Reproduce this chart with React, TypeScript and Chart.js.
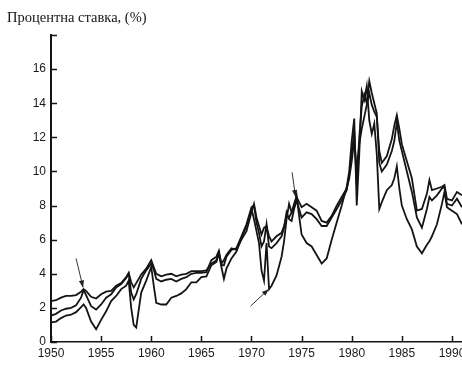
import { useEffect, useRef } from "react";
import { Chart, registerables } from "chart.js";
Chart.register(...registerables);

const title = "Процентна ставка, (%)";

const years = [
  1950, 1950.5, 1951, 1951.5, 1952, 1952.5, 1953, 1953.25, 1953.5, 1954, 1954.5,
  1955, 1955.5, 1956, 1956.5, 1957, 1957.5, 1957.75, 1958, 1958.25, 1958.5, 1959, 1959.5,
  1960, 1960.25, 1960.5, 1961, 1961.5, 1962, 1962.5, 1963, 1963.5, 1964, 1964.5,
  1965, 1965.5, 1966, 1966.5, 1966.75, 1967, 1967.25, 1967.5, 1968, 1968.5, 1969, 1969.5,
  1970, 1970.25, 1970.5, 1970.75, 1971, 1971.25, 1971.5, 1971.75, 1972, 1972.5,
  1973, 1973.25, 1973.5, 1973.75, 1974, 1974.25, 1974.5, 1974.75,
  1975, 1975.5, 1976, 1976.5, 1977, 1977.5, 1978, 1978.5, 1979, 1979.5, 1979.75,
  1980, 1980.25, 1980.5, 1980.75, 1981, 1981.25, 1981.5, 1981.75,
  1982, 1982.25, 1982.5, 1982.75, 1983, 1983.5, 1984, 1984.25, 1984.5, 1984.75,
  1985, 1985.5, 1986, 1986.5, 1987, 1987.5, 1987.75, 1988, 1988.5,
  1989, 1989.25, 1989.5, 1990, 1990.5, 1991,
];

const longRate = [
  2.4, 2.45, 2.6, 2.7, 2.7, 2.75, 2.95, 3.1, 3.0, 2.65, 2.55,
  2.8, 2.95, 3.0, 3.3, 3.45, 3.8, 4.05, 3.5, 3.2, 3.45, 3.95, 4.3,
  4.8, 4.4, 4.0, 3.85, 3.95, 4.0, 3.85, 3.95, 4.0, 4.15, 4.15,
  4.15, 4.2, 4.6, 4.8, 5.2, 4.6, 4.8, 5.1, 5.5, 5.4, 6.0, 6.5,
  7.6, 8.1, 7.3, 6.8, 6.3, 6.7, 6.8, 6.2, 5.9, 6.2,
  6.4, 6.8, 7.4, 7.3, 7.6, 8.1, 8.5, 8.2,
  7.9, 8.1, 7.9, 7.7, 7.1, 7.0, 7.4, 8.0, 8.5, 9.0, 9.6,
  10.6, 11.8, 10.0, 11.6, 12.5, 13.2, 13.9, 14.6,
  13.9, 13.5, 13.2, 11.2, 10.5, 10.9, 11.9, 12.7, 13.3, 12.5,
  11.6, 10.6, 9.6, 7.7, 7.8, 8.7, 9.5, 8.9, 9.0,
  9.1, 9.2, 8.4, 8.3, 8.8, 8.6,
];

const midRate = [
  1.55, 1.65, 1.85, 1.95, 2.0, 2.15, 2.6, 3.05, 2.75, 2.1, 1.9,
  2.2, 2.6, 2.8, 3.2, 3.4, 3.75, 4.0, 2.9, 2.5, 2.8, 3.7, 4.2,
  4.6, 4.25, 3.7, 3.55, 3.65, 3.7, 3.55, 3.7, 3.8, 4.0, 4.05,
  4.05, 4.1, 4.8, 5.0, 5.35, 4.5, 4.5, 5.0, 5.4, 5.5, 6.2, 6.9,
  7.9, 8.0, 7.0, 6.4, 5.6, 5.9, 6.9, 5.6, 5.5, 5.8,
  6.2, 6.7, 7.6, 7.2, 7.1, 7.8, 8.3, 7.8,
  7.3, 7.6, 7.5, 7.2, 6.8, 6.8, 7.3, 7.8, 8.3, 8.9, 9.8,
  11.0, 12.4, 9.2, 12.0, 13.8, 14.5, 14.0, 15.3,
  14.6, 14.0, 13.4, 10.5, 10.0, 10.4, 11.2, 11.8, 12.9, 11.8,
  11.2, 10.0, 8.8, 7.3, 6.7, 7.8, 8.5, 8.3, 8.6,
  9.0, 9.1, 8.1, 8.0, 8.4, 7.9,
];

const shortRate = [
  1.15, 1.2, 1.4, 1.55, 1.6, 1.75, 2.05, 2.2, 2.0, 1.2, 0.75,
  1.3, 1.8, 2.4, 2.7, 3.1, 3.3, 3.6, 2.0, 1.0, 0.85, 2.9, 3.6,
  4.4, 3.3, 2.3, 2.2, 2.2, 2.6, 2.7, 2.85, 3.1, 3.5, 3.5,
  3.8, 3.85, 4.5, 4.7, 5.2, 4.4, 3.7, 4.3, 4.9, 5.3, 6.1, 6.8,
  7.8, 7.2, 6.5, 5.8, 4.2, 3.6, 5.8, 3.1, 3.3, 3.9,
  5.0, 5.9, 7.2, 8.1, 7.6, 7.9, 8.6, 7.4,
  6.3, 5.8, 5.6, 5.1, 4.6, 4.9, 6.0, 7.0, 8.0, 9.1, 10.0,
  11.8, 13.1, 8.0, 11.0, 14.7, 14.2, 15.0, 13.0,
  12.2, 12.8, 11.0, 7.8, 8.2, 8.9, 9.2, 9.6, 10.3, 9.0,
  8.0, 7.2, 6.6, 5.6, 5.2, 5.7, 5.9, 6.2, 6.9,
  8.1, 8.8, 7.9, 7.7, 7.5, 6.9,
];

const xTickValues = [1950, 1955, 1960, 1965, 1970, 1975, 1980, 1985, 1990];
const yTickValues = [0, 2, 4, 6, 8, 10, 12, 14, 16, 18];

// arrows: start and tip, in (year, rate)
const arrowFrom = [
  [1952.5, 4.9],
  [1974.05, 9.95],
  [1969.9, 2.1],
];
const arrowTo = [
  [1953.2, 3.2],
  [1974.4, 8.5],
  [1971.72, 3.1],
];

const INK = "#141414";

const decorPlugin = {
  id: "decor",
  afterDraw(chart: any) {
    const ctx = chart.ctx;
    const xs = chart.scales.x;
    const ys = chart.scales.y;
    const area = chart.chartArea;
    ctx.save();
    ctx.fillStyle = INK;
    ctx.font = '14.5px "Liberation Serif", serif';
    ctx.textBaseline = "middle";
    ctx.textAlign = "left";
    ctx.fillText(title, 7, 18);
    ctx.strokeStyle = INK;
    ctx.lineWidth = 1.5;
    ctx.beginPath();
    for (const v of yTickValues) {
      const py = Math.round(ys.getPixelForValue(v)) + 0.5;
      ctx.moveTo(area.left, py);
      ctx.lineTo(area.left + 6, py);
    }
    for (const v of xTickValues) {
      const px = Math.round(xs.getPixelForValue(v)) + 0.5;
      ctx.moveTo(px, area.bottom);
      ctx.lineTo(px, area.bottom - 6);
    }
    ctx.stroke();
    ctx.strokeStyle = "#333";
    ctx.fillStyle = "#222";
    ctx.lineWidth = 1;
    for (let i = 0; i < arrowFrom.length; i++) {
      const x1 = xs.getPixelForValue(arrowFrom[i][0]);
      const y1 = ys.getPixelForValue(arrowFrom[i][1]);
      const x2 = xs.getPixelForValue(arrowTo[i][0]);
      const y2 = ys.getPixelForValue(arrowTo[i][1]);
      const ang = Math.atan2(y2 - y1, x2 - x1);
      ctx.beginPath();
      ctx.moveTo(x1, y1);
      ctx.lineTo(x2, y2);
      ctx.stroke();
      const L = 7, W = 2.6;
      ctx.beginPath();
      ctx.moveTo(x2, y2);
      ctx.lineTo(x2 - L * Math.cos(ang) + W * Math.sin(ang), y2 - L * Math.sin(ang) - W * Math.cos(ang));
      ctx.lineTo(x2 - L * Math.cos(ang) - W * Math.sin(ang), y2 - L * Math.sin(ang) + W * Math.cos(ang));
      ctx.closePath();
      ctx.fill();
    }
    ctx.restore();
  },
};

export default function App() {
  const ref = useRef<HTMLCanvasElement | null>(null);
  useEffect(() => {
    document.body.style.margin = "0";
    const canvas = ref.current!;
    const mk = (label: string, values: number[]) => ({
      label,
      data: years.map((y, i) => ({ x: y, y: values[i] })),
      borderColor: INK,
      borderWidth: 1.8,
      pointRadius: 0,
      tension: 0,
      fill: false,
    });
    const chart = new Chart(canvas, {
      type: "line",
      data: {
        datasets: [
          mk("long", longRate),
          mk("mid", midRate),
          mk("short", shortRate),
        ],
      },
      options: {
        animation: false,
        responsive: false,
        layout: { padding: { top: 35, left: 0, right: 0, bottom: 0 } },
        plugins: { legend: { display: false }, tooltip: { enabled: false }, title: { display: false } },
        scales: {
          x: {
            type: "linear",
            min: 1950,
            max: 1991,
            afterBuildTicks: (s: any) => {
              s.ticks = xTickValues.map((v) => ({ value: v }));
            },
            afterFit: (s: any) => {
              s.height = 24;
              s.paddingRight = 0;
              s.paddingLeft = 0;
            },
            ticks: {
              color: "#1a1a1a",
              font: { family: '"Liberation Sans", Arial, sans-serif', size: 12 },
              padding: 4,
              maxRotation: 0,
              callback: (v: any) => String(v),
            },
            grid: { display: false, drawTicks: false },
            border: { display: true, color: INK, width: 1.6 },
          },
          y: {
            min: 0,
            max: 18,
            afterBuildTicks: (s: any) => {
              s.ticks = yTickValues.map((v) => ({ value: v }));
            },
            afterFit: (s: any) => {
              s.width = 51;
              s.paddingTop = 0;
              s.paddingBottom = 0;
            },
            ticks: {
              color: "#1a1a1a",
              font: { family: '"Liberation Sans", Arial, sans-serif', size: 12 },
              padding: 5,
              callback: (v: any) => (v === 18 ? "" : String(v)),
            },
            grid: { display: false, drawTicks: false },
            border: { display: true, color: INK, width: 2 },
          },
        },
      },
      plugins: [decorPlugin],
    });
    return () => chart.destroy();
  }, []);
  return <canvas ref={ref} width={462} height={366} style={{ display: "block" }} />;
}
